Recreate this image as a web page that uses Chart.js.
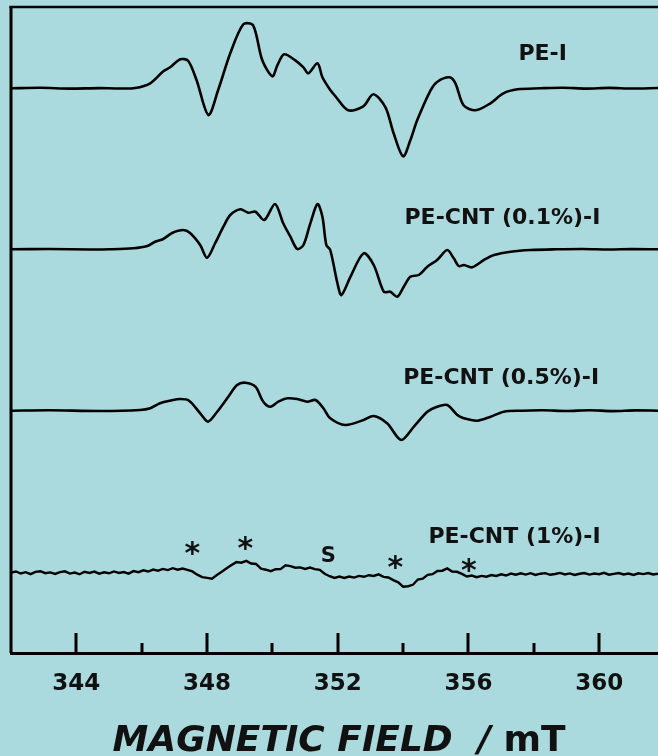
<!DOCTYPE html>
<html>
<head>
<meta charset="utf-8">
<script src="https://cdn.jsdelivr.net/npm/chart.js@4/dist/chart.umd.min.js"></script>
<style>
  html, body { margin: 0; padding: 0; background: #aadade; }
  #wrap { width: 658px; height: 756px; }
</style>
</head>
<body>
<div id="wrap"><canvas id="esr"></canvas></div>
<script>
// field values (mT) and first-derivative signal (arbitrary units, up = positive)
const fieldPE = [342.0, 342.9, 343.8, 344.7, 345.3, 345.8, 346.26, 346.66, 346.87, 347.18, 347.42, 347.68, 348.04, 348.34, 348.71, 349.11, 349.41, 349.69, 350.0, 350.15, 350.36, 350.7, 350.95, 351.1, 351.38, 351.53, 351.77, 351.93, 352.32, 352.78, 353.09, 353.46, 353.71, 354.0, 354.22, 354.43, 354.84, 355.05, 355.42, 355.6, 355.85, 356.22, 356.67, 357.07, 357.5, 358.2, 358.9, 359.6, 360.3, 361.0, 361.8];
const signalPE = [0, 0.5, -0.3, 0.2, -0.2, 0.3, 5, 17, 21, 29, 27.5, 8, -26.7, -1.7, 35, 64, 63, 28, 12, 23, 34, 28, 21, 15, 25, 11, -1.7, -8, -22, -18, -6, -19, -45, -68, -52, -32, -2, 6.6, 11, 5, -17, -22, -15, -5, -1, 0, 0.6, -0.3, 0.4, -0.2, 0.3];

const fieldCNT01 = [342.0, 343.19, 344.42, 345.03, 345.74, 346.17, 346.41, 346.66, 346.93, 347.27, 347.48, 347.79, 348.0, 348.25, 348.5, 348.71, 349.02, 349.26, 349.48, 349.75, 350.08, 350.33, 350.55, 350.76, 350.95, 351.16, 351.38, 351.53, 351.65, 351.77, 351.99, 352.11, 352.39, 352.79, 353.1, 353.41, 353.61, 353.82, 354.02, 354.22, 354.48, 354.74, 355.04, 355.35, 355.55, 355.7, 355.86, 356.11, 356.47, 356.78, 357.29, 357.9, 358.7, 359.5, 360.3, 361.0, 361.8];
const signalCNT01 = [0, 0.3, -0.2, 0, 1, 3.3, 7.6, 10.3, 16.3, 19.3, 16.3, 4.3, -8.4, 6.3, 22.6, 34.3, 40, 36.6, 37.6, 29.3, 45.3, 26, 12.6, 0.3, 4.3, 26, 45.3, 32.6, 4.3, -0.7, -34, -45.7, -27.4, -4, -15.7, -42.4, -42.4, -47.4, -37.4, -27.4, -25.7, -17.4, -10.7, -0.7, -9, -16.7, -15.7, -18, -10.7, -5.7, -2.4, -0.7, 0, 0.3, -0.2, 0.2, 0];

const fieldCNT05 = [342.0, 343.19, 344.73, 345.95, 346.26, 346.56, 346.87, 347.18, 347.45, 347.79, 348.03, 348.31, 348.65, 348.92, 349.17, 349.48, 349.72, 349.94, 350.18, 350.46, 350.76, 351.07, 351.32, 351.56, 351.77, 352.23, 352.79, 353.1, 353.51, 353.94, 354.33, 354.74, 355.04, 355.35, 355.66, 355.86, 356.27, 356.68, 357.08, 357.6, 358.3, 359.0, 359.7, 360.4, 361.1, 361.8];
const signalCNT05 = [0, 0.4, -0.3, 0.7, 2.4, 7.4, 10, 11.7, 10, -2.6, -11, -1, 14, 25.7, 28, 24, 9, 4, 9, 12.4, 11.7, 9, 10.7, 2.4, -7.6, -14.3, -9.3, -5.3, -12.6, -29.3, -16, -1, 4, 5.7, -4.3, -7.6, -10, -6, -1, 0, 0.4, -0.3, 0.5, -0.4, 0.3, 0];

// 1% sample: noisy, read on a regular 0.15 mT grid
const fieldStart1 = 342.0;
const fieldStep1 = 0.15;
const signalCNT1 = [0, 1.2, -0.8, 0.5, -1.5, 0.8, 1.5, -0.5, 0.3, -1.2, 0.6, 1.4, -0.9, 0.2, -1.6, 0.9, -0.3, 1.1, -1.0, 0.4,
  -0.6, 1.3, -0.2, 0.7, -0.9, 1.6, 0.5, 2.4, 1.2, 3.1, 2.0, 3.8, 2.6, 4.5, 3.0, 4.2, 2.8, 1.3, -2.0, -4.4,
  -5.2, -6.1, -2.4, 0.9, 4.4, 7.7, 10.6, 10.0, 11.8, 9.2, 8.7, 4.0, 3.0, 1.5, 3.5, 3.6, 7.4, 6.6, 5.0, 5.3,
  3.8, 5.1, 3.6, 2.9, -1.0, -3.5, -5.3, -3.9, -5.2, -3.8, -4.9, -3.2, -4.1, -2.5, -3.3, -1.7, -4.2, -4.8, -7.4, -9.6,
  -14.0, -13.5, -12.1, -6.8, -5.9, -2.2, -1.5, 1.7, 2.0, 4.3, 1.2, 0.9, -1.2, -3.8, -2.9, -4.5, -3.2, -4.0, -2.3, -3.2,
  -1.6, -2.8, -0.9, -2.0, -0.6, -1.9, -0.5, -2.2, -1.0, -0.4, -2.1, -1.3, -0.2, -1.8, -0.7, -2.3, -1.1, -0.3, -1.9, -0.8,
  -1.5, -0.1, -2.0, -1.2, -0.4, -1.7, -0.9, -2.2, -0.6, -1.4, -0.3, -1.8, -1.0];

// vertical offsets of the stacked spectra
const offsets = [564.7, 403.7, 242.3, 80.3];
const sampleNames = ['PE-I', 'PE-CNT (0.1%)-I', 'PE-CNT (0.5%)-I', 'PE-CNT (1%)-I'];

const majorTicks = [344, 348, 352, 356, 360];
const minorTicks = [346, 350, 354, 358];

// label anchors in data units [x mT, y]
const nameAnchors = [[358.27, 599], [357.04, 435], [357.0, 275], [357.41, 116]];
const markTexts = ['*', '*', 'S', '*', '*'];
const markAnchors = [[347.55, 103.7], [349.17, 108.7], [351.71, 96], [353.76, 89.7], [356.01, 86.3]];

function toPoints(xs, ys, off) {
    return ys.map((v, i) => ({ x: xs[i], y: v + off }));
}

const field1 = signalCNT1.map((v, i) => fieldStart1 + i * fieldStep1);

const frame = {
    id: 'frame',
    beforeDraw(chart) {
        const c = chart.ctx;
        c.save();
        c.fillStyle = '#aadade';
        c.fillRect(0, 0, chart.width, chart.height);
        c.restore();
    },
    afterDraw(chart) {
        const c = chart.ctx;
        const a = chart.chartArea;
        const xs = chart.scales.x;
        const ys = chart.scales.y;
        c.save();
        c.strokeStyle = '#000';
        c.lineCap = 'butt';
        // left and top frame
        c.lineWidth = 3;
        c.beginPath();
        c.moveTo(a.left, a.top - 1);
        c.lineTo(a.left, a.bottom);
        c.stroke();
        c.lineWidth = 2.5;
        c.beginPath();
        c.moveTo(a.left - 1.5, a.top);
        c.lineTo(a.right, a.top);
        c.stroke();
        // inward ticks
        c.lineWidth = 3;
        majorTicks.forEach(t => {
            const px = Math.round(xs.getPixelForValue(t));
            c.beginPath();
            c.moveTo(px, a.bottom);
            c.lineTo(px, a.bottom - 20);
            c.stroke();
        });
        minorTicks.forEach(t => {
            const px = Math.round(xs.getPixelForValue(t));
            c.beginPath();
            c.moveTo(px, a.bottom);
            c.lineTo(px, a.bottom - 10);
            c.stroke();
        });
        // sample names
        c.fillStyle = '#111';
        c.textAlign = 'center';
        c.textBaseline = 'middle';
        c.font = 'bold 22px "DejaVu Sans"';
        sampleNames.forEach((s, i) => {
            c.fillText(s, xs.getPixelForValue(nameAnchors[i][0]), ys.getPixelForValue(nameAnchors[i][1]));
        });
        // asterisks and S
        markTexts.forEach((s, i) => {
            const px = xs.getPixelForValue(markAnchors[i][0]);
            const py = ys.getPixelForValue(markAnchors[i][1]);
            if (s === '*') {
                c.font = 'bold 30px "DejaVu Sans"';
                c.fillText(s, px, py + 6);
            } else {
                c.font = 'bold 21px "DejaVu Sans"';
                c.fillText(s, px, py);
            }
        });
        // axis title
        const left = 'MAGNETIC FIELD  / ';
        const right = 'mT';
        c.textAlign = 'left';
        c.textBaseline = 'alphabetic';
        c.font = 'italic bold 36px "DejaVu Sans"';
        const w1 = c.measureText(left).width;
        c.font = 'bold 36px "DejaVu Sans"';
        const w2 = c.measureText(right).width;
        const x0 = 339 - (w1 + w2) / 2;
        c.font = 'italic bold 36px "DejaVu Sans"';
        c.fillText(left, x0, 751);
        c.font = 'bold 36px "DejaVu Sans"';
        c.fillText(right, x0 + w1, 751);
        c.restore();
    }
};

const lineStyle = {
    borderColor: '#000',
    borderWidth: 2.6,
    pointRadius: 0,
    fill: false,
    tension: 0.3
};

new Chart(document.getElementById('esr'), {
    type: 'line',
    data: {
        datasets: [
            Object.assign({ label: sampleNames[0], data: toPoints(fieldPE, signalPE, offsets[0]) }, lineStyle),
            Object.assign({ label: sampleNames[1], data: toPoints(fieldCNT01, signalCNT01, offsets[1]) }, lineStyle),
            Object.assign({ label: sampleNames[2], data: toPoints(fieldCNT05, signalCNT05, offsets[2]) }, lineStyle),
            Object.assign({ label: sampleNames[3], data: toPoints(field1, signalCNT1, offsets[3]) }, lineStyle, { tension: 0, borderWidth: 2.4 })
        ]
    },
    options: {
        responsive: true,
        maintainAspectRatio: false,
        animation: false,
        layout: { padding: { left: 11, top: 7, right: 0, bottom: 0 } },
        plugins: { legend: { display: false }, tooltip: { enabled: false } },
        scales: {
            x: {
                type: 'linear',
                min: 342,
                max: 361.8,
                afterFit(scale) { scale.height = 103; },
                afterBuildTicks(scale) { scale.ticks = majorTicks.map(v => ({ value: v })); },
                grid: { display: true, drawOnChartArea: false, drawTicks: false },
                border: { display: true, color: '#000', width: 3 },
                ticks: {
                    color: '#111',
                    padding: 17,
                    font: { family: 'DejaVu Sans', size: 23, weight: 'bold' },
                    callback: v => String(v)
                }
            },
            y: {
                display: false,
                min: 0,
                max: 646
            }
        }
    },
    plugins: [frame]
});
</script>
</body>
</html>
